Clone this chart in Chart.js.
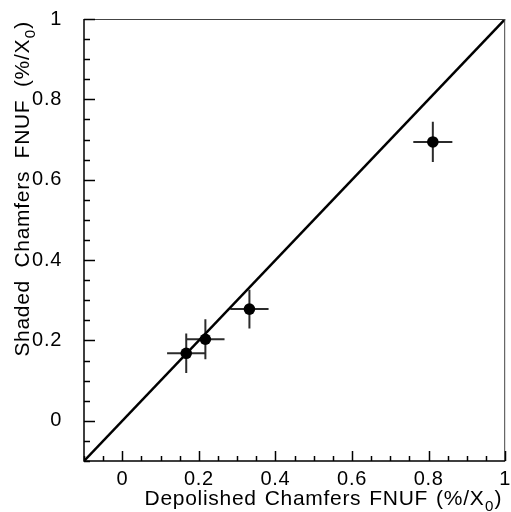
<!DOCTYPE html>
<html><head><meta charset="utf-8">
<script src="https://cdn.jsdelivr.net/npm/chart.js@4/dist/chart.umd.min.js"></script>
<style>html,body{margin:0;padding:0;background:#fff;}</style>
</head><body>
<canvas id="c" width="511" height="512" style="width:511px;height:512px;display:block"></canvas>
<script>
// ---- data ----
const depolished    = [0.167, 0.217, 0.332, 0.811];   // x values (%/X0)
const shaded        = [0.168, 0.203, 0.278, 0.694];   // y values (%/X0)
const depolishedErr = [0.050, 0.050, 0.050, 0.051];   // x errors
const shadedErr     = [0.049, 0.050, 0.048, 0.050];   // y errors
const diagonalX     = [-0.1, 1];                       // y = x reference line
const majorTicks    = [0, 0.2, 0.4, 0.6, 0.8, 1];
const tickLabels    = ['0', '0.2', '0.4', '0.6', '0.8', '1'];
const axisMin = -0.1, axisMax = 1, minorStep = 0.05;
const xTitleMain = 'Depolished Chamfers FNUF (%/X', xTitleSub = '0', xTitleEnd = ')';
const yTitleMain = 'Shaded Chamfers FNUF (%/X',     yTitleSub = '0', yTitleEnd = ')';

const FONT = '"Liberation Sans", Arial, Helvetica, sans-serif';
const LS = '0.7px';

function titleWidth(ctx, main, sub, end, size, gap) {
  const words = main.split(' ');
  ctx.font = size + 'px ' + FONT;
  let w = 0;
  words.forEach((wd, i) => { w += ctx.measureText(wd).width + (i < words.length - 1 ? gap : 0); });
  ctx.font = (size * 0.72) + 'px ' + FONT;
  w += ctx.measureText(sub).width + 1;
  ctx.font = size + 'px ' + FONT;
  w += ctx.measureText(end).width;
  return w;
}
function drawTitle(ctx, main, sub, end, size, gap, xStart) {
  const words = main.split(' ');
  let x = xStart;
  ctx.textAlign = 'left'; ctx.textBaseline = 'alphabetic'; ctx.fillStyle = '#000';
  ctx.font = size + 'px ' + FONT;
  words.forEach((wd, i) => {
    ctx.fillText(wd, x, 0);
    x += ctx.measureText(wd).width + (i < words.length - 1 ? gap : 0);
  });
  ctx.font = (size * 0.72) + 'px ' + FONT;
  ctx.fillText(sub, x + 0.5, size * 0.28);
  x += ctx.measureText(sub).width + 1;
  ctx.font = size + 'px ' + FONT;
  ctx.fillText(end, x, 0);
}

const framePlugin = {
  id: 'frame',
  beforeDraw(chart) {
    try { chart.ctx.letterSpacing = LS; } catch (e) {}
  },
  beforeDatasetsDraw(chart) {
    const ctx = chart.ctx, xs = chart.scales.x, ys = chart.scales.y;
    ctx.save();
    ctx.strokeStyle = '#2b2b2b';
    ctx.lineWidth = 2;
    for (let i = 0; i < depolished.length; i++) {
      const px = xs.getPixelForValue(depolished[i]);
      const py = ys.getPixelForValue(shaded[i]);
      ctx.beginPath();
      ctx.moveTo(xs.getPixelForValue(depolished[i] - depolishedErr[i]), py);
      ctx.lineTo(xs.getPixelForValue(depolished[i] + depolishedErr[i]), py);
      ctx.moveTo(px, ys.getPixelForValue(shaded[i] - shadedErr[i]));
      ctx.lineTo(px, ys.getPixelForValue(shaded[i] + shadedErr[i]));
      ctx.stroke();
    }
    ctx.restore();
  },
  afterDraw(chart) {
    const ctx = chart.ctx, a = chart.chartArea, xs = chart.scales.x, ys = chart.scales.y;
    ctx.save();
    // frame top/right
    ctx.strokeStyle = '#444'; ctx.lineWidth = 1;
    ctx.beginPath();
    ctx.moveTo(a.left, a.top + 0.5); ctx.lineTo(a.right, a.top + 0.5);
    ctx.moveTo(a.right - 0.5, a.top); ctx.lineTo(a.right - 0.5, a.bottom);
    ctx.stroke();
    // axes left/bottom
    ctx.strokeStyle = '#000'; ctx.lineWidth = 1.5;
    ctx.beginPath();
    ctx.moveTo(a.left, a.top); ctx.lineTo(a.left, a.bottom); ctx.lineTo(a.right, a.bottom);
    ctx.stroke();
    // ticks (inward)
    ctx.beginPath();
    const nMin = Math.round(axisMin / minorStep), nMax = Math.round(axisMax / minorStep);
    for (let i = nMin; i <= nMax; i++) {
      const v = i * minorStep;
      const major = (i % 4 === 0);
      const px = Math.round(xs.getPixelForValue(v)) + 0.5;
      ctx.moveTo(px, a.bottom); ctx.lineTo(px, a.bottom - (major ? 10 : 5));
      const py = Math.round(ys.getPixelForValue(v)) + 0.5;
      ctx.moveTo(a.left, py); ctx.lineTo(a.left + (major ? 11 : 6), py);
    }
    ctx.stroke();
    // axis titles
    try { ctx.letterSpacing = LS; } catch (e) {}
    const fs = 21, gx = 8, gy = 12.5;
    const wX = titleWidth(ctx, xTitleMain, xTitleSub, xTitleEnd, fs, gx);
    ctx.save();
    ctx.translate(0, 505);
    drawTitle(ctx, xTitleMain, xTitleSub, xTitleEnd, fs, gx, a.right - 3 - wX);
    ctx.restore();
    const wY = titleWidth(ctx, yTitleMain, yTitleSub, yTitleEnd, fs, gy);
    ctx.save();
    ctx.translate(29, 0);
    ctx.rotate(-Math.PI / 2);
    drawTitle(ctx, yTitleMain, yTitleSub, yTitleEnd, fs, gy, -(a.top + 2 + wY));
    ctx.restore();
    ctx.restore();
  }
};

const tickFont = { family: FONT, size: 20 };
function makeScale(isX) {
  return {
    type: 'linear', min: axisMin, max: axisMax,
    grid: { display: false }, border: { display: false },
    ticks: {
      font: tickFont, color: '#000', padding: isX ? -2 : 14,
      callback: (v) => { const k = majorTicks.findIndex(t => Math.abs(t - v) < 1e-9); return k >= 0 ? tickLabels[k] : ''; }
    },
    afterBuildTicks: (s) => { s.ticks = majorTicks.map(v => ({ value: v })); },
    afterFit: (s) => {
      if (isX) { s.height = 51; } else { s.width = 84; }
      s.paddingLeft = 0; s.paddingRight = 0; s.paddingTop = 0; s.paddingBottom = 0;
    }
  };
}

new Chart(document.getElementById('c'), {
  type: 'scatter',
  data: {
    datasets: [
      {
        label: 'points',
        data: depolished.map((x, i) => ({ x: x, y: shaded[i] })),
        backgroundColor: '#000', borderColor: '#000',
        pointRadius: 5.8, pointHoverRadius: 5.8, borderWidth: 0, order: 1
      },
      {
        label: 'y = x',
        type: 'line',
        data: diagonalX.map(v => ({ x: v, y: v })),
        borderColor: '#000', borderWidth: 2.5, pointRadius: 0, fill: false, order: 2
      }
    ]
  },
  options: {
    responsive: false, animation: false,
    layout: { padding: { top: 19, right: 2, left: 0, bottom: 0 } },
    plugins: { legend: { display: false }, tooltip: { enabled: false } },
    scales: { x: makeScale(true), y: makeScale(false) }
  },
  plugins: [framePlugin]
});
</script>
</body></html>
